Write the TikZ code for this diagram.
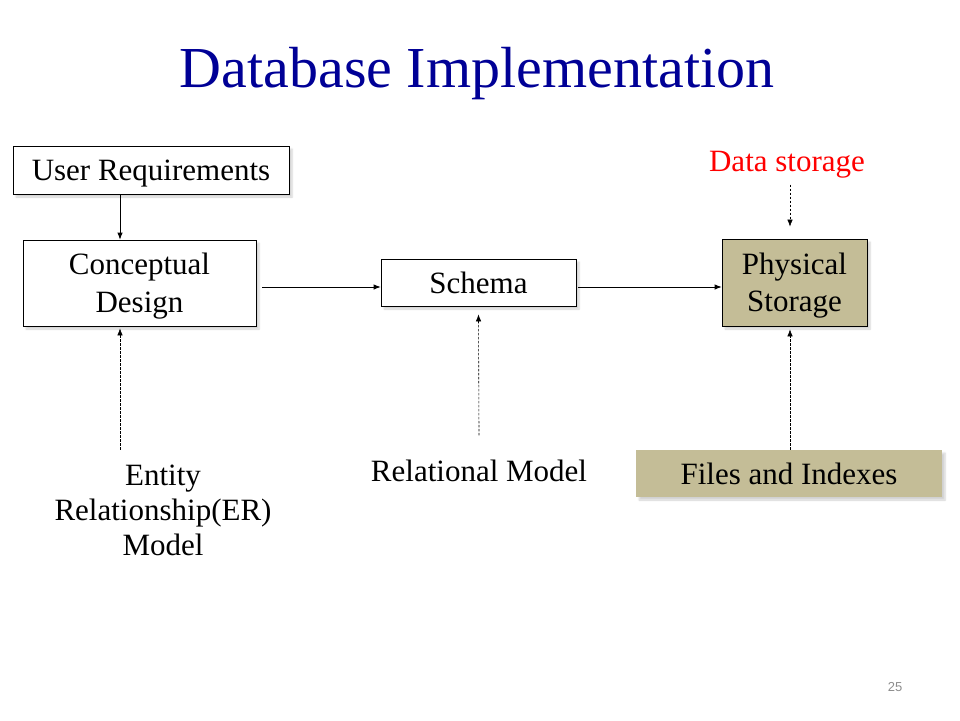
\documentclass[tikz,border=0pt]{standalone}
\usepackage{fontspec}
\setmainfont{Liberation Serif}
\newfontfamily\numfont{Liberation Sans}
\definecolor{navy1}{RGB}{0, 0, 150}
\definecolor{tan1}{RGB}{196, 189, 151}
\usetikzlibrary{arrows.meta, positioning, calc, shadows.blur}

\begin{document}
\begin{tikzpicture}[x=1pt, y=-1pt,
    txt/.style={font=\fontsize{31}{37.5}\selectfont, align=center, text height=21pt, text depth=0pt, inner sep=0pt},
    twoline/.style={text height=58.5pt},
    box/.style={txt, draw=black, line width=0.8pt, fill=white,
      blur shadow={shadow xshift=3pt, shadow yshift=-3pt, shadow blur steps=6, shadow opacity=18}},
    tanbox/.style={box, fill=tan1},
    arr/.style={-{Latex[length=7pt, width=5.5pt]}, line width=0.8pt},
    dasharr/.style={arr, line width=0.6pt, dash pattern=on 2.5pt off 1.5pt}]
  \useasboundingbox (0,0) rectangle (960,720);

  % title and page number
  \node[anchor=base, text=navy1, font=\fontsize{58}{64}\selectfont, inner sep=0pt] (title) at (477,87) {Database Implementation};
  \node[text=black!45, font=\numfont\fontsize{13}{15}\selectfont, inner sep=0pt] (pagenum) at (895,687) {25};

  % boxes
  \node[box, minimum width=276pt, minimum height=48pt] (ureq) at (151,170) {User Requirements};
  \node[box, twoline, minimum width=233pt, minimum height=86pt] (concept) at (139.5,283) {Conceptual\\Design};
  \node[box, minimum width=195pt, minimum height=47pt] (schema) at (478.5,282.5) {Schema};
  \node[tanbox, twoline, minimum width=145pt, minimum height=87pt] (phys) at (794.5,282.5) {Physical\\Storage};
  \node[tanbox, draw=none, minimum width=306pt, minimum height=47pt] (files) at (789,473.5) {Files and Indexes};

  % free labels
  \node[txt, text=red] (storage) at (787,161) {Data storage};
  \node[txt, font=\fontsize{31}{35}\selectfont, text height=91pt] (er) at (163,509.5) {Entity\\Relationship(ER)\\Model};
  \node[txt] (relmodel) at (479,471) {Relational Model};

  \coordinate (leftline) at (120,0);
  \coordinate (rightline) at (790,0);
  \coordinate (midline) at (0,287);

  % connectors
  \draw[arr] (ureq.south -| leftline) -- (concept.north -| leftline);
  \draw[arr] ($(concept.east |- midline)+(6,0)$) -- (schema.west |- midline);
  \draw[arr] ($(schema.east |- midline)+(2,0)$) -- (phys.west |- midline);
  \draw[dasharr] ($(er.north -| leftline)+(0,-14)$) -- ($(concept.south -| leftline)+(0,2)$);
  \draw[dasharr] ($(relmodel.north)+(0,-25)$) -- ($(schema.south)+(0,8)$);
  \draw[dasharr] ($(storage.south -| rightline)+(0,13)$) -- ($(phys.north -| rightline)+(0,-12)$);
  \draw[dasharr] (files.north -| rightline) -- ($(phys.south -| rightline)+(0,3)$);
\end{tikzpicture}
\end{document}
